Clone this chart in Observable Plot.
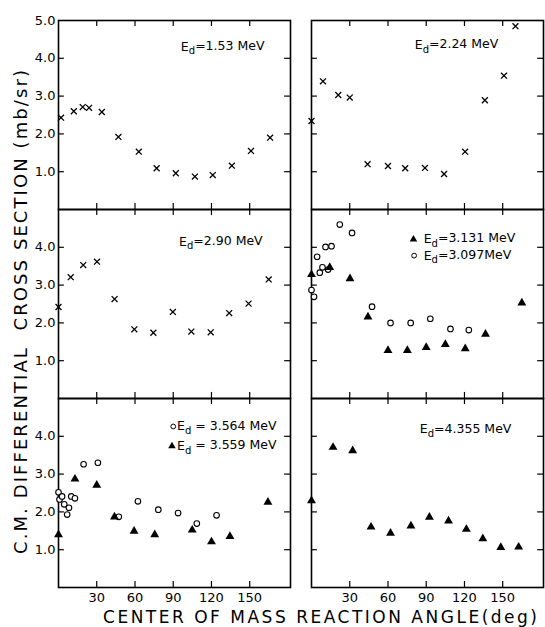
<!DOCTYPE html>
<html><head><meta charset="utf-8">
<script src="https://cdn.jsdelivr.net/npm/d3@7"></script>
<script src="https://cdn.jsdelivr.net/npm/@observablehq/plot@0.6"></script>
<style>html,body{margin:0;padding:0;background:#fff;} #chart{width:545px;height:627px;}</style>
</head><body><div id="chart"></div>
<script>
// ---- axis ticks ----
const xTicks = [30, 60, 90, 120, 150];
const xTickLabels = ["30", "60", "90", "120", "150"];
const yTicks = [1, 2, 3, 4];
const yTickValues = [1, 2, 3, 4, 5];
const yTickLabels = ["1.0", "2.0", "3.0", "4.0", "5.0"];

// ---- data: angle (deg) / cross section (mb/sr) ----
// E_d = 1.53 MeV (x)
const ang153 = [2, 12, 19, 24, 34, 47, 63, 77, 92, 107, 121, 136, 151, 166];
const val153 = [2.43, 2.6, 2.71, 2.69, 2.58, 1.92, 1.53, 1.09, 0.96, 0.87, 0.91, 1.16, 1.55, 1.9];
// E_d = 2.24 MeV (x)
const ang224 = [0, 9, 21, 30, 44, 60, 73.5, 89, 104, 120.5, 136, 151, 160];
const val224 = [2.34, 3.39, 3.03, 2.96, 1.2, 1.15, 1.09, 1.1, 0.94, 1.53, 2.89, 3.54, 4.85];
// E_d = 2.90 MeV (x)
const ang290 = [0, 9.6, 19.4, 30.2, 44, 59.5, 74.4, 89.7, 104.2, 119.4, 133.9, 149.1, 164.9];
const val290 = [2.42, 3.21, 3.53, 3.62, 2.63, 1.83, 1.74, 2.29, 1.77, 1.75, 2.26, 2.51, 3.15];
// E_d = 3.131 MeV (triangles)
const ang3131 = [0, 14.3, 30.2, 44.3, 60, 75.2, 90, 105, 120.6, 136.5, 165];
const val3131 = [3.28, 3.47, 3.17, 2.16, 1.27, 1.27, 1.35, 1.43, 1.32, 1.7, 2.53];
// E_d = 3.097 MeV (circles)
const ang3097 = [0, 2, 4.4, 6.5, 8.6, 11, 13, 15.7, 22.2, 31.8, 47.5, 62, 77.8, 93.2, 109, 123.4];
const val3097 = [2.87, 2.69, 3.75, 3.33, 3.47, 4.01, 3.41, 4.03, 4.6, 4.38, 2.43, 2.0, 2.0, 2.11, 1.84, 1.81];
// E_d = 3.564 MeV (circles)
const ang3564 = [0, 0.8, 2.8, 4.5, 6.8, 8.2, 10, 12.9, 19.7, 30.9, 47.3, 62.3, 78.3, 93.8, 108.5, 124];
const val3564 = [2.52, 2.33, 2.41, 2.2, 1.93, 2.11, 2.41, 2.36, 3.26, 3.3, 1.87, 2.28, 2.06, 1.97, 1.69, 1.91];
// E_d = 3.559 MeV (triangles)
const ang3559 = [0, 12.9, 30, 43.9, 59.3, 75.5, 104.9, 120, 134.5, 164.3];
const val3559 = [1.4, 2.87, 2.71, 1.87, 1.49, 1.4, 1.52, 1.21, 1.35, 2.26];
// E_d = 4.355 MeV (triangles)
const ang4355 = [0, 16.9, 32.3, 46.7, 62, 78, 92.5, 107.5, 121.5, 134.4, 148.5, 162.5];
const val4355 = [2.3, 3.71, 3.62, 1.6, 1.44, 1.63, 1.86, 1.76, 1.54, 1.29, 1.06, 1.07];

// ---- legends ----
const legendPanel = ["TL", "TR", "ML", "MR", "MR", "BL", "BL", "BR"];
const legendText = ["E_d=1.53 MeV", "E_d=2.24 MeV", "E_d=2.90 MeV", "E_d=3.131 MeV", "E_d=3.097MeV", "E_d = 3.564 MeV", "E_d = 3.559 MeV", "E_d=4.355 MeV"];
const legendAngle = [96, 81, 94.6, 88, 88, 93, 93, 85];
const legendValue = [4.3, 4.35, 4.15, 4.21, 3.78, 4.26, 3.74, 4.18];
const legendSymbol = [null, null, null, "triangle", "circle", "circle", "triangle", null];
const legendSymbolAngle = [null, null, null, 80, 80.5, 90, 89, null];

const panels = {TL: ["L", "T"], TR: ["R", "T"], ML: ["L", "M"], MR: ["R", "M"], BL: ["L", "B"], BR: ["R", "B"]};
const rows = (p, a, v) => a.map((d, i) => ({fx: panels[p][0], fy: panels[p][1], angle: d, value: v[i]}));

const crosses = [...rows("TL", ang153, val153), ...rows("TR", ang224, val224), ...rows("ML", ang290, val290)];
const triangles = [...rows("MR", ang3131, val3131), ...rows("BL", ang3559, val3559), ...rows("BR", ang4355, val4355)];
const circles = [...rows("MR", ang3097, val3097), ...rows("BL", ang3564, val3564)];

const legendRows = legendText.map((t, i) => ({
  fx: panels[legendPanel[i]][0], fy: panels[legendPanel[i]][1],
  text: t, angle: legendAngle[i], value: legendValue[i],
  symbol: legendSymbol[i], symAngle: legendSymbolAngle[i]
}));
const legendSyms = legendRows.filter(d => d.symbol);

const yLabelRows = [];
for (const fy of ["T", "M", "B"]) {
  yTickValues.forEach((v, i) => {
    if (fy === "T" || v < 5) yLabelRows.push({fx: "L", fy, value: v, label: yTickLabels[i]});
  });
}
const xLabelRows = [];
for (const fx of ["L", "R"]) xTicks.forEach((a, i) => xLabelRows.push({fx, fy: "B", angle: a, label: xTickLabels[i]}));

const xMax = 182, yMax = 5;
const tickLenY = 0.16, tickLenX = 4.6;

const plot = Plot.plot({
  width: 545, height: 627,
  marginLeft: 57, marginRight: 1, marginTop: 20, marginBottom: 40,
  style: {fontFamily: "DejaVu Sans", background: "white", color: "black"},
  x: {domain: [0, xMax], axis: null},
  y: {domain: [0, yMax], axis: null},
  fx: {domain: ["L", "R"], paddingInner: 0.082, paddingOuter: 0, axis: null},
  fy: {domain: ["T", "M", "B"], padding: 0, axis: null},
  marks: [
    Plot.ruleX(xTicks, {x: d => d, y1: 0, y2: tickLenY, stroke: "black", strokeWidth: 1.2}),
    Plot.ruleX(xTicks, {x: d => d, y1: yMax, y2: yMax - tickLenY, stroke: "black", strokeWidth: 1.2}),
    Plot.ruleY(yTicks, {y: d => d, x1: 0, x2: tickLenX, stroke: "black", strokeWidth: 1.2}),
    Plot.ruleY(yTicks, {y: d => d, x1: xMax, x2: xMax - tickLenX, stroke: "black", strokeWidth: 1.2}),
    Plot.frame({stroke: "black", strokeWidth: 1.6}),
    Plot.text(yLabelRows, {fx: "fx", fy: "fy", x: 0, y: "value", text: "label", textAnchor: "end", dx: -3, fontSize: 13, fill: "black"}),
    Plot.text(xLabelRows, {fx: "fx", fy: "fy", x: "angle", y: 0, text: "label", dy: 10, fontSize: 13, fill: "black"}),
    Plot.dot(crosses, {fx: "fx", fy: "fy", x: "angle", y: "value", symbol: "times", stroke: "black", r: 2.8, strokeWidth: 1.3}),
    Plot.dot(circles, {fx: "fx", fy: "fy", x: "angle", y: "value", symbol: "circle", stroke: "black", fill: "white", r: 2.8, strokeWidth: 1.1}),
    Plot.dot(triangles, {fx: "fx", fy: "fy", x: "angle", y: "value", symbol: "triangle", fill: "black", r: 3.3}),
    Plot.dot(legendSyms.filter(d => d.symbol === "circle"), {fx: "fx", fy: "fy", x: "symAngle", y: "value", symbol: "circle", stroke: "black", fill: "white", r: 2.4, strokeWidth: 1}),
    Plot.dot(legendSyms.filter(d => d.symbol === "triangle"), {fx: "fx", fy: "fy", x: "symAngle", y: "value", symbol: "triangle", fill: "black", r: 2.8}),
    Plot.text(legendRows, {fx: "fx", fy: "fy", x: "angle", y: "value", text: "text", textAnchor: "start", fontSize: 12.5, fill: "black"})
  ]
});

// subscript "d" in E_d
d3.select(plot).selectAll("text").each(function() {
  const t = this.textContent;
  if (t.startsWith("E_d")) {
    const el = d3.select(this);
    el.text(null);
    el.append("tspan").text("E");
    el.append("tspan").attr("dy", "0.35em").attr("font-size", "0.8em").text("d");
    el.append("tspan").attr("dy", "-0.35em").text(t.slice(3));
  }
});

const svg = d3.select(plot);
svg.append("text")
  .attr("x", 320).attr("y", 623).attr("text-anchor", "middle")
  .attr("font-size", 17).attr("fill", "black")
  .attr("textLength", 434).attr("lengthAdjust", "spacing")
  .text("CENTER OF MASS REACTION ANGLE(deg)");
svg.append("text")
  .attr("transform", "translate(27,312) rotate(-90)").attr("text-anchor", "middle")
  .attr("font-size", 18).attr("fill", "black")
  .attr("textLength", 484).attr("lengthAdjust", "spacing")
  .text("C.M. DIFFERENTIAL  CROSS SECTION (mb/sr)");

document.getElementById("chart").appendChild(plot);
</script>
</body></html>
